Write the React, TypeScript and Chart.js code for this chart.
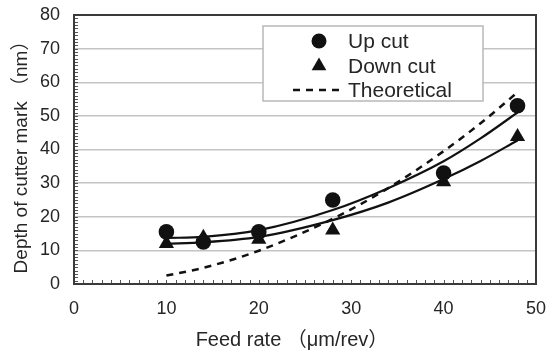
import React, { useEffect, useRef } from 'react';
import { Chart, registerables } from 'chart.js';

Chart.register(...registerables);

// Measured points
const feedRate = [10, 14, 20, 28, 40, 48];
const upCut = [15.5, 12.5, 15.5, 25, 33, 53];
const downCut = [12, 13.8, 13.3, 16, 30.4, 43.8];

// Fitted / theoretical curves
const curveFeed = [10, 14, 20, 28, 34, 40, 44, 48];
const upCutFit = [13.7, 14.0, 16.0, 22.0, 28.5, 36.5, 43.3, 51];
const downCutFit = [12.0, 12.4, 14.0, 19.0, 24.2, 31.2, 36.6, 42.7];
const theoretical = [2.5, 4.8, 9.9, 19.4, 28.5, 39.5, 47.8, 57];

const legendLabels = ['Up cut', 'Down cut', 'Theoretical'];
const xTitle = 'Feed rate （μm/rev）';
const yTitle = 'Depth of cutter mark （nm）';

const FONT = '"Liberation Sans", Arial, "Noto Sans CJK JP", sans-serif';
const INK = '#111';
const TEXT = '#262626';

const framePlugin = {
  id: 'frameMinor',
  afterDatasetsDraw(chart: any) {
    const ctx = chart.ctx;
    const { left, right, top, bottom } = chart.chartArea;
    const xs = chart.scales.x;
    const ys = chart.scales.y;
    ctx.save();
    ctx.strokeStyle = '#555';
    ctx.lineWidth = 1;
    for (let v = 0; v <= 50; v += 1) {
      const px = Math.round(xs.getPixelForValue(v)) + 0.5;
      ctx.beginPath();
      ctx.moveTo(px, bottom);
      ctx.lineTo(px, bottom - 4);
      ctx.stroke();
    }
    for (let v = 0; v <= 80; v += 1) {
      const py = Math.round(ys.getPixelForValue(v)) + 0.5;
      ctx.beginPath();
      ctx.moveTo(left, py);
      ctx.lineTo(left + 4, py);
      ctx.stroke();
    }
    ctx.strokeStyle = '#3a3a3a';
    ctx.lineWidth = 2;
    ctx.strokeRect(left, top, right - left, bottom - top);
    ctx.restore();
  },
  afterDraw(chart: any) {
    const ctx = chart.ctx;
    const { left, right, top, bottom } = chart.chartArea;
    const bx = left + 189;
    const by = top + 11;
    const bw = 220;
    const bh = 75;
    ctx.save();
    ctx.fillStyle = '#fff';
    ctx.fillRect(bx, by, bw, bh);
    ctx.strokeStyle = '#b8b8b8';
    ctx.lineWidth = 1.5;
    ctx.strokeRect(bx, by, bw, bh);
    const mx = bx + 56;
    const tx = bx + 85;
    const rows = [by + 15, by + 40, by + 64];
    ctx.fillStyle = INK;
    ctx.beginPath();
    ctx.arc(mx, rows[0], 7.5, 0, Math.PI * 2);
    ctx.fill();
    const r = 8.5;
    ctx.beginPath();
    ctx.moveTo(mx, rows[1] - r);
    ctx.lineTo(mx + r * Math.sin((2 * Math.PI) / 3), rows[1] + r * 0.5);
    ctx.lineTo(mx - r * Math.sin((2 * Math.PI) / 3), rows[1] + r * 0.5);
    ctx.closePath();
    ctx.fill();
    ctx.strokeStyle = INK;
    ctx.lineWidth = 2.5;
    ctx.setLineDash([7, 6]);
    ctx.beginPath();
    ctx.moveTo(mx - 26, rows[2]);
    ctx.lineTo(mx + 20, rows[2]);
    ctx.stroke();
    ctx.setLineDash([]);
    ctx.font = `21px ${FONT}`;
    ctx.fillStyle = TEXT;
    ctx.textBaseline = 'middle';
    ctx.textAlign = 'left';
    legendLabels.forEach((t, i) => ctx.fillText(t, tx, rows[i] + 1));
    // axis titles
    ctx.font = `20px ${FONT}`;
    ctx.textAlign = 'center';
    ctx.fillText(xTitle, (left + right) / 2 - 13, 340);
    ctx.font = `19px ${FONT}`;
    ctx.translate(22, (top + bottom) / 2 + 3);
    ctx.rotate(-Math.PI / 2);
    ctx.fillText(yTitle, 0, 0);
    ctx.restore();
  },
};

export default function App() {
  const ref = useRef<HTMLCanvasElement>(null);
  useEffect(() => {
    document.body.style.margin = '0';
    const pts = (xs: number[], ys: number[]) => xs.map((x, i) => ({ x, y: ys[i] }));
    const chart = new Chart(ref.current as HTMLCanvasElement, {
      type: 'scatter',
      data: {
        datasets: [
          {
            label: legendLabels[0],
            data: pts(feedRate, upCut),
            pointStyle: 'circle',
            pointRadius: 7.8,
            backgroundColor: INK,
            borderColor: INK,
            borderWidth: 0,
            showLine: false,
          },
          {
            label: legendLabels[1],
            data: pts(feedRate, downCut),
            pointStyle: 'triangle',
            pointRadius: 8.8,
            backgroundColor: INK,
            borderColor: INK,
            borderWidth: 0,
            showLine: false,
          },
          {
            label: 'Up cut fit',
            data: pts(curveFeed, upCutFit),
            showLine: true,
            pointRadius: 0,
            borderColor: INK,
            borderWidth: 2.2,
            tension: 0.4,
            cubicInterpolationMode: 'monotone',
          },
          {
            label: 'Down cut fit',
            data: pts(curveFeed, downCutFit),
            showLine: true,
            pointRadius: 0,
            borderColor: INK,
            borderWidth: 2.2,
            tension: 0.4,
            cubicInterpolationMode: 'monotone',
          },
          {
            label: legendLabels[2],
            data: pts(curveFeed, theoretical),
            showLine: true,
            pointRadius: 0,
            borderColor: INK,
            borderWidth: 2.5,
            borderDash: [7, 6],
            tension: 0.4,
            cubicInterpolationMode: 'monotone',
          },
        ] as any,
      },
      options: {
        responsive: false,
        animation: false,
        devicePixelRatio: 1,
        layout: { padding: { top: 15, right: 11, left: 0, bottom: 0 } },
        plugins: { legend: { display: false }, tooltip: { enabled: false } },
        scales: {
          x: {
            type: 'linear',
            min: 0,
            max: 50,
            ticks: { stepSize: 10, color: TEXT, font: { family: FONT, size: 18 }, padding: 14 },
            grid: { display: false, drawTicks: false },
            border: { display: false },
            title: { display: false, text: xTitle },
            afterFit: (s: any) => {
              s.height = 67;
              s.paddingLeft = 0;
              s.paddingRight = 0;
            },
          },
          y: {
            type: 'linear',
            min: 0,
            max: 80,
            ticks: { stepSize: 10, color: TEXT, font: { family: FONT, size: 18 }, padding: 14 },
            grid: { color: '#c4c4c4', lineWidth: 1.5, drawTicks: false },
            border: { display: false },
            title: { display: false, text: yTitle },
            afterFit: (s: any) => {
              s.width = 74;
              s.paddingTop = 0;
              s.paddingBottom = 0;
            },
          },
        },
      },
      plugins: [framePlugin],
    });
    return () => chart.destroy();
  }, []);
  return (
    <div style={{ width: 547, height: 351 }}>
      <canvas ref={ref} width={547} height={351} />
    </div>
  );
}
